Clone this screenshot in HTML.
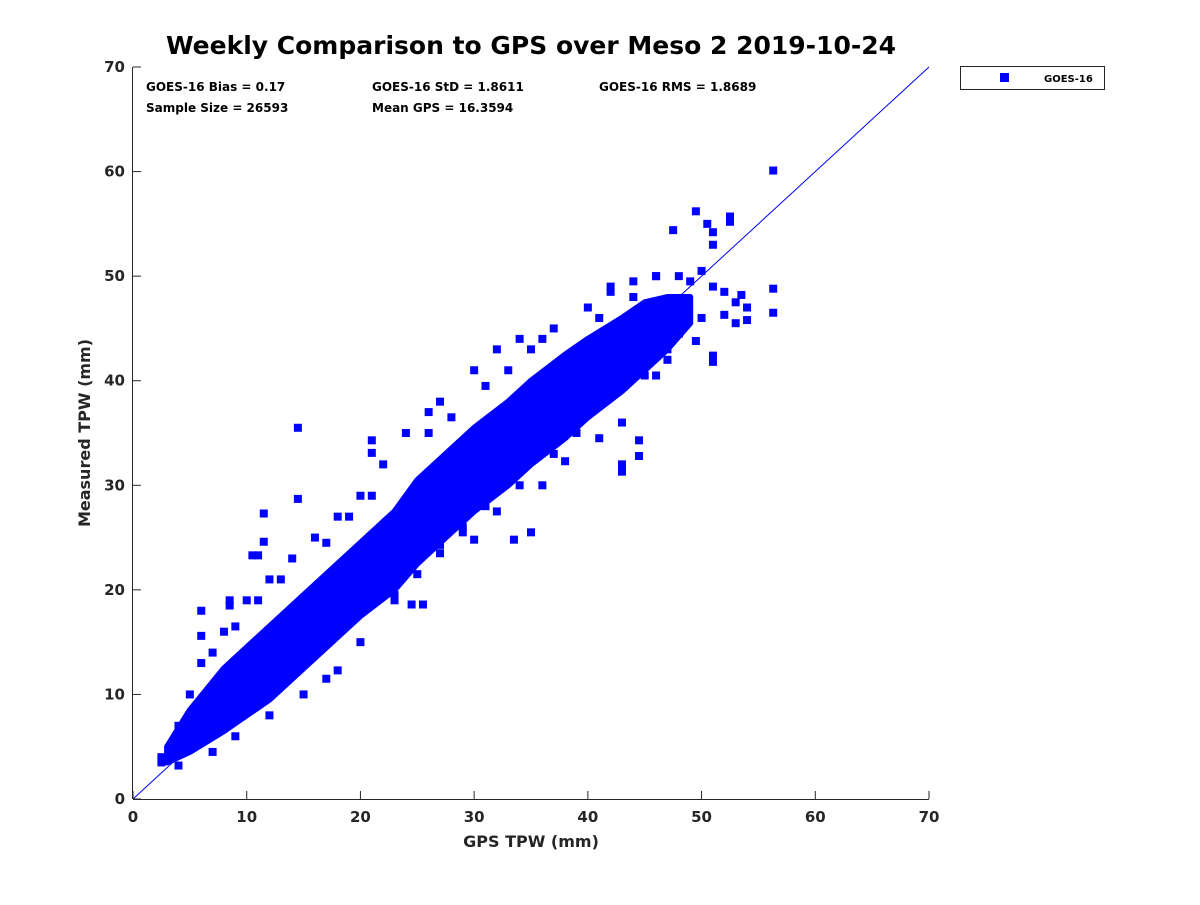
<!DOCTYPE html>
<html><head><meta charset="utf-8"><style>
body{margin:0;background:#fff;}
svg text{font-family:"DejaVu Sans","Liberation Sans",sans-serif;font-weight:bold;fill:#262626;}
</style></head><body>
<svg id="chart" width="1200" height="900" xmlns="http://www.w3.org/2000/svg">
<rect width="1200" height="900" fill="#fff"/>
<text x="531" y="54" text-anchor="middle" font-size="25" style="fill:#000">Weekly Comparison to GPS over Meso 2 2019-10-24</text>
<g id="stats" font-size="12">
<text x="146" y="91" style="fill:#000">GOES-16 Bias = 0.17</text>
<text x="372" y="91" style="fill:#000">GOES-16 StD = 1.8611</text>
<text x="599" y="91" style="fill:#000">GOES-16 RMS = 1.8689</text>
<text x="146" y="112" style="fill:#000">Sample Size = 26593</text>
<text x="372" y="112" style="fill:#000">Mean GPS = 16.3594</text>
</g>
<g id="marks"></g>
<g id="axes"></g>
<text x="531" y="847" text-anchor="middle" font-size="16">GPS TPW (mm)</text>
<text transform="translate(90,433) rotate(-90)" text-anchor="middle" font-size="16">Measured TPW (mm)</text>
<g>
<rect x="960.5" y="66.5" width="144" height="23" fill="#fff" stroke="#262626"/>
<rect x="1000" y="73" width="9" height="9" fill="#0000ff"/>
<text x="1044" y="82" font-size="10" style="fill:#000">GOES-16</text>
</g>
</svg>
<script>
const xTicks=[0,10,20,30,40,50,60,70];
const yTicks=[0,10,20,30,40,50,60,70];
const bandX=[3,5,8,10,12,15,18,20,23,25,28,30,33,35,38,40,43,45,47,49];
const bandLow=[3.5,4.5,6.5,8,9.5,12.5,15.5,17.5,20,22.5,25.5,27.5,30,32,34.5,36.5,39,41,43,45.5];
const bandHigh=[5,8.5,12.5,14.5,16.5,19.5,22.5,24.5,27.5,30.5,33.5,35.5,38,40,42.5,44,46,47.5,48,48];
const ptsX=[14.5,14.5,11.5,11.5,10.5,11,6,6,8.5,8.5,21,21,56.3,49.5,50.5,52.5,52.5,51,51,47.5,56.3,56.3,54,53,53.5,51,51,44.5,44.5,43,43,38,32,33.5,30,27,24.5,25.5,17,18,20,46,49.5,52,54,47,39,41,43,35,36,29,23,22,15,12,9,7,4,2.5,2.5,45,44,46,42,40,36,34,32,30,27,26,24,22,20,18,16,14,12,10,8,6,5,4,48,50,49,51,46,44,42,41,37,35,33,31,28,26,21,19,17,13,11,9,7,50,48,47,52,53,45,43,39,37,34,31,29,27,25,23];
const ptsY=[35.5,28.7,27.3,24.6,23.3,23.3,18,15.6,19,18.5,34.3,33.1,60.1,56.2,55,55.7,55.2,54.2,53,54.4,48.8,46.5,45.8,45.5,48.2,41.8,42.4,34.3,32.8,31.3,32,32.3,27.5,24.8,24.8,24.3,18.6,18.6,11.5,12.3,15,40.5,43.8,46.3,47,42,36,34.5,36,25.5,30,26,19,20,10,8,6,4.5,3.2,4,3.5,45,48,50,49,47,44,44,43,41,38,37,35,32,29,27,25,23,21,19,16,13,10,7,50,50.5,49.5,49,50,49.5,48.5,46,45,43,41,39.5,36.5,35,29,27,24.5,21,19,16.5,14,46,44.5,43,48.5,47.5,40.5,40,35,33,30,28,25.5,23.5,21.5,19.5];
const NS='http://www.w3.org/2000/svg';
const X0=133,X1=929,Y0=799,Y1=67;
const sx=v=>X0+(v-0)/(70-0)*(X1-X0);
const sy=v=>Y0-(v-0)/(70-0)*(Y0-Y1);
const marks=document.getElementById('marks');
const axes=document.getElementById('axes');
function mk(tag,attrs,parent){const e=document.createElementNS(NS,tag);for(const k in attrs)e.setAttribute(k,attrs[k]);parent.appendChild(e);return e;}
let pts=[];
for(let i=0;i<bandX.length;i++)pts.push(sx(bandX[i])+','+sy(bandHigh[i]));
for(let i=bandX.length-1;i>=0;i--)pts.push(sx(bandX[i])+','+sy(bandLow[i]));
const band=mk('polygon',{points:pts.join(' '),fill:'#0000ff',stroke:'#0000ff','stroke-width':6,'stroke-linejoin':'round'},marks);


for(let i=0;i<ptsX.length;i++){
 const r=mk('rect',{x:sx(ptsX[i])-4,y:sy(ptsY[i])-4,width:8,height:8,fill:'#0000ff'},marks);
 
 
}
const ln=mk('line',{x1:sx(0),y1:sy(0),x2:sx(70),y2:sy(70),stroke:'#0000ff','stroke-width':1},marks);


const xa=mk('line',{x1:X0,y1:Y0+0.5,x2:X1,y2:Y0+0.5,stroke:'#262626'},axes);


const ya=mk('line',{x1:X0-0.5,y1:Y0,x2:X0-0.5,y2:Y1,stroke:'#262626'},axes);


xTicks.forEach(t=>{
 mk('line',{x1:sx(t),y1:Y0,x2:sx(t),y2:Y0-8,stroke:'#262626'},axes);
 const tx=mk('text',{x:sx(t),y:Y0+23,'text-anchor':'middle','font-size':15},axes);
 tx.textContent=t;
 
 
});
yTicks.forEach(t=>{
 mk('line',{x1:X0,y1:sy(t),x2:X0+8,y2:sy(t),stroke:'#262626'},axes);
 const tx=mk('text',{x:X0-8,y:sy(t)+5,'text-anchor':'end','font-size':15},axes);
 tx.textContent=t;
 
 
});
</script>
</body></html>
